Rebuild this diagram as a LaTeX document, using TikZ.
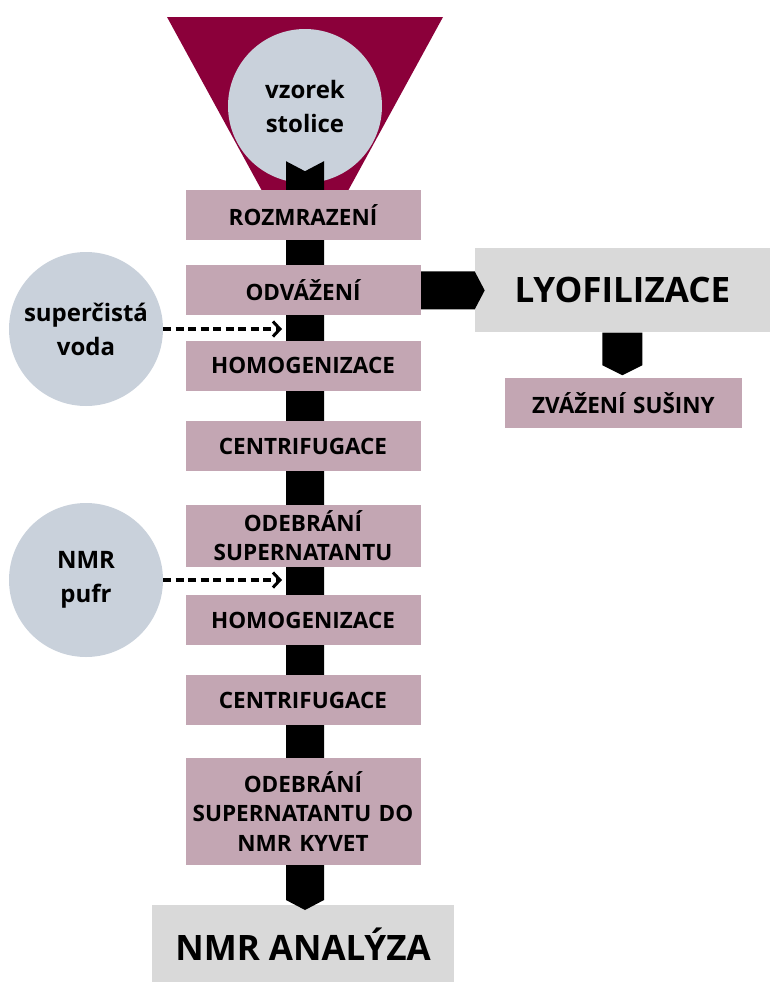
\documentclass[tikz,border=0pt]{standalone}
\usepackage{fontspec}
\setmainfont{Open Sans}
\usetikzlibrary{arrows.meta, positioning, calc}

\definecolor{krok}{HTML}{C3A6B3}
\definecolor{vysledek}{HTML}{D9D9D9}
\definecolor{vstup}{HTML}{C9D1DB}
\definecolor{nalevka}{HTML}{8B003A}

\pgfdeclarelayer{front}
\pgfsetlayers{main,front}

\begin{document}
\begin{tikzpicture}[x=1pt, y=-1pt, node distance=25pt,
			stepbox/.style={fill=krok, rectangle, align=center, inner sep=0pt,
				minimum width=235pt, minimum height=50pt, text width=230pt,
				font=\fontsize{22.5}{29.5}\selectfont\bfseries},
			resultbox/.style={fill=vysledek, rectangle, align=center, inner sep=0pt,
				font=\fontsize{35}{40}\selectfont\bfseries},
			source/.style={fill=vstup, circle, align=center, inner sep=0pt,
				minimum size=154pt, font=\fontsize{24}{34}\selectfont\bfseries},
			bar/.style={fill=black},
			inflow/.style={line width=3.2pt, dash pattern=on 8pt off 4.5pt,
				-{Straight Barb[length=7pt, width=15pt, line width=3pt]}}]
			\useasboundingbox (0,0) rectangle (769,983);
			
			% nálevka a vzorek
			\fill[nalevka] (167,17) -- (443,17) -- (343,200) -- (267,200) -- cycle;
			\node[source] (sample) at (305,106) {vzorek\\stolice};
			
			% kroky zpracování
			\begin{pgfonlayer}{front}
			\node[stepbox] (r1) at (303,215) {ROZMRAZENÍ};
			\node[stepbox, below=25pt of r1] (r2) {ODVÁŽENÍ};
			\node[stepbox, below=25pt of r2] (r3) {HOMOGENIZACE};
			\node[stepbox, below=30pt of r3] (r4) {CENTRIFUGACE};
			\node[stepbox, below=33pt of r4, minimum height=62pt] (r5) {ODEBRÁNÍ\\SUPERNATANTU};
			\node[stepbox, below=28pt of r5] (r6) {HOMOGENIZACE};
			\node[stepbox, below=30pt of r6] (r7) {CENTRIFUGACE};
			\node[stepbox, below=32pt of r7, minimum height=107pt] (r8) {ODEBRÁNÍ\\SUPERNATANTU DO\\NMR KYVET};
			\node[stepbox, right=84pt of r2, yshift=-113pt, minimum width=237pt] (dry) {ZVÁŽENÍ SUŠINY};
			\end{pgfonlayer}
			
			% výsledky
			\node[resultbox, below=40pt of r8, minimum width=302pt, minimum height=77pt] (final) {NMR ANALÝZA};
			\node[resultbox, right=54pt of r2, minimum width=295pt, minimum height=84pt] (lyo) {LYOFILIZACE};
			
			% vstupy
			\node[source] (water) at (86,329) {superčistá\\voda};
			\node[source] (buffer) at (86,580) {NMR\\pufr};
			\coordinate (in1) at ($(water.east -| sample.south)+(-23,0)$);
			\coordinate (in2) at ($(buffer.east -| sample.south)+(-23,0)$);
			
			% spojnice
			\fill[bar] ($(sample.south)+(-19,-22)$) -- ($(sample.south)+(0,-12)$) -- ($(sample.south)+(19,-22)$)
				-- ($(final.north -| sample.south)+(19,-5)$) -- ($(final.north -| sample.south)+(0,5)$)
				-- ($(final.north -| sample.south)+(-19,-5)$) -- cycle;
			\fill[bar] ($(r2.east)+(0,-19)$) -- ($(lyo.west)+(0,-19)$) -- ($(lyo.west)+(10,0)$)
				-- ($(lyo.west)+(0,19)$) -- ($(r2.east)+(0,19)$) -- cycle;
			\fill[bar] ($(lyo.south)+(-20,0)$) -- ($(lyo.south)+(20,0)$) -- ($(dry.north -| lyo.south)+(20,-13)$)
				-- ($(dry.north -| lyo.south)+(0,-3)$) -- ($(dry.north -| lyo.south)+(-20,-13)$) -- cycle;
			\draw[inflow] (water) -- (in1);
			\draw[inflow] (buffer) -- (in2);
			
		\end{tikzpicture}
\end{document}
